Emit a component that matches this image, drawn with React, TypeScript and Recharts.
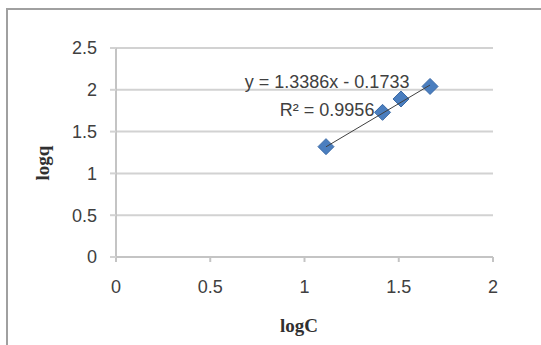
import React from 'react';
import { ScatterChart, Scatter, XAxis, YAxis, CartesianGrid, ReferenceDot } from 'recharts';

const logC = [1.114, 1.414, 1.512, 1.666];
const logq = [1.32, 1.73, 1.89, 2.04];
const trendX = [1.114, 1.666];
const trendY = [1.318, 2.057];
const xTicks = [0, 0.5, 1, 1.5, 2];
const yTicks = [0, 0.5, 1, 1.5, 2, 2.5];
const equation = 'y = 1.3386x - 0.1733';
const rSquared = 'R\u00B2 = 0.9956';
const eqAnchor = { x: 1.12, y: 2.093 };
const r2Anchor = { x: 1.12, y: 1.758 };
const xTitle = 'logC';
const yTitle = 'logq';

const points = logC.map((x, i) => ({ x, y: logq[i] }));
const trend = trendX.map((x, i) => ({ x, y: trendY[i] }));

const TICK_FONT = '"Liberation Sans", Arial, sans-serif';
const TITLE_FONT = '"Liberation Serif", "Times New Roman", serif';

const Diamond = (props: any) => {
  const { cx, cy } = props;
  const h = 8;
  return (
    <polygon
      points={`${cx},${cy - h} ${cx + h},${cy} ${cx},${cy + h} ${cx - h},${cy}`}
      fill="#4a7ebf"
      stroke="#3b6aa6"
      strokeWidth={1}
    />
  );
};

const NoShape = () => <g />;

const textLabel = (txt: string) => ({
  content: (p: any) => {
    const vb = p.viewBox || {};
    const cx = (vb.x ?? 0) + (vb.width ?? 0) / 2;
    const cy = (vb.y ?? 0) + (vb.height ?? 0) / 2;
    return (
      <text
        x={cx}
        y={cy}
        textAnchor="middle"
        dominantBaseline="central"
        fontFamily={TICK_FONT}
        fontSize={18}
        fill="#404040"
      >
        {txt}
      </text>
    );
  },
});

export default function App() {
  return (
    <div
      style={{
        position: 'absolute',
        left: 0,
        top: 0,
        width: 541,
        height: 345,
        overflow: 'hidden',
        background: '#ffffff',
      }}
    >
      <div
        style={{
          position: 'absolute',
          left: 6,
          top: 8,
          width: 700,
          height: 500,
          border: '2px solid #a0a0a0',
        }}
      />
      <div style={{ position: 'absolute', left: 0, top: 0 }}>
        <ScatterChart width={541} height={345} margin={{ top: 48, right: 48, bottom: 0, left: 0 }}>
          <CartesianGrid vertical={false} stroke="#d2d2d2" strokeWidth={2} />
          <XAxis
            type="number"
            dataKey="x"
            domain={[0, 2]}
            ticks={xTicks}
            height={88}
            tickSize={5}
            tickMargin={18}
            axisLine={{ stroke: '#c4c4c4', strokeWidth: 2 }}
            tickLine={{ stroke: '#c4c4c4', strokeWidth: 2 }}
            tick={{ fontFamily: TICK_FONT, fontSize: 18, fill: '#404040' }}
            label={{
              content: () => (
                <text
                  x={299}
                  y={325}
                  textAnchor="middle"
                  dominantBaseline="central"
                  fontFamily={TITLE_FONT}
                  fontWeight="bold"
                  fontSize={19}
                  fill="#303030"
                >
                  {xTitle}
                </text>
              ),
            }}
          />
          <YAxis
            type="number"
            dataKey="y"
            domain={[0, 2.5]}
            ticks={yTicks}
            width={116}
            tickSize={6}
            tickMargin={13}
            axisLine={{ stroke: '#c4c4c4', strokeWidth: 2 }}
            tickLine={{ stroke: '#d2d2d2', strokeWidth: 2 }}
            tick={{ fontFamily: TICK_FONT, fontSize: 18, fill: '#404040' }}
            label={{
              content: () => (
                <text
                  x={42}
                  y={163}
                  transform="rotate(-90 42 163)"
                  textAnchor="middle"
                  dominantBaseline="central"
                  fontFamily={TITLE_FONT}
                  fontWeight="bold"
                  fontSize={19}
                  fill="#303030"
                >
                  {yTitle}
                </text>
              ),
            }}
          />
          <Scatter data={points} shape={Diamond} isAnimationActive={false} />
          <Scatter
            data={trend}
            line={{ stroke: '#404040', strokeWidth: 1 }}
            shape={NoShape}
            isAnimationActive={false}
          />
          <ReferenceDot x={eqAnchor.x} y={eqAnchor.y} r={0} stroke="none" fill="none" label={textLabel(equation)} />
          <ReferenceDot x={r2Anchor.x} y={r2Anchor.y} r={0} stroke="none" fill="none" label={textLabel(rSquared)} />
        </ScatterChart>
      </div>
    </div>
  );
}
